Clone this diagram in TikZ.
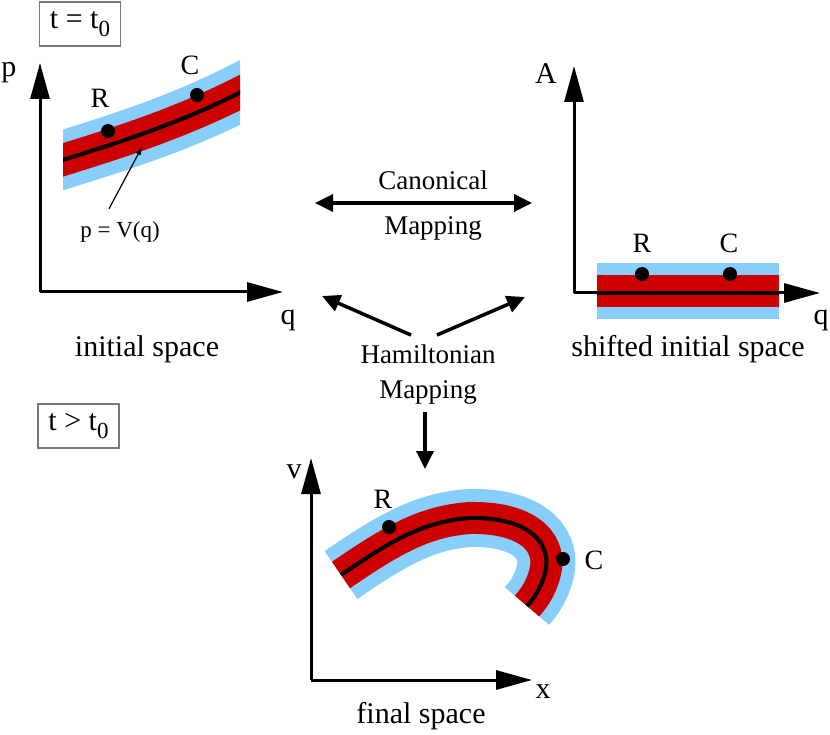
\documentclass[tikz,border=0pt]{standalone}
\usepackage{fontspec}
\setmainfont{Liberation Serif}
\usepackage{tikz}
\usetikzlibrary{arrows.meta, positioning}
\definecolor{bandblue}{RGB}{135, 206, 250}
\definecolor{bandred}{RGB}{204, 0, 0}
\definecolor{boxgrey}{RGB}{120, 120, 120}
\newcommand{\lowsub}[1]{\raisebox{-8pt}{\fontsize{23}{26}\selectfont #1}}

\begin{document}
\begin{tikzpicture}[
    x=1pt, y=1pt,
    every node/.style = {inner sep=0pt},
    axis/.style = {line width=3pt, -{Triangle[length=36pt,width=19pt]}},
    maparrow/.style = {line width=3.5pt, >={Triangle[length=18pt,width=17pt]}, ->},
    pointer/.style = {line width=1.2pt, -{Triangle[length=8pt,width=5pt]}},
    blueband/.style = {draw=bandblue, line width=58pt},
    redband/.style = {draw=bandred, line width=32pt},
    midline/.style = {draw=black, line width=4pt},
    dot/.style = {circle, fill=black, minimum size=14pt},
    timebox/.style = {
        rectangle, draw=boxgrey, line width=1.3pt,
        minimum width=81pt, minimum height=44pt,
        font=\fontsize{30}{34}\selectfont
    },
    spacelabel/.style = {anchor=base, font=\fontsize{30}{34}\selectfont},
    axislabel/.style = {anchor=base, font=\fontsize{30}{34}\selectfont},
    ptlabel/.style = {anchor=base, font=\fontsize{28}{32}\selectfont},
    maplabel/.style = {anchor=base, font=\fontsize{27}{32}\selectfont},
]
\useasboundingbox (0,0) rectangle (830,-735);

% Time boxes
\node[timebox] (tzero) at (80,-24) {t = t\lowsub{0}};
\node[timebox] (tlater) at (78.5,-426) {t > t\lowsub{0}};

% Initial space: band along p = V(q)
\begin{scope}
    \clip (63,-40) rectangle (240,-210);
    \draw[blueband] (50,-164) .. controls (120,-142) and (180,-124) .. (253,-86);
    \draw[redband]  (50,-164) .. controls (120,-142) and (180,-124) .. (253,-86);
    \draw[midline]  (50,-164) .. controls (120,-142) and (180,-124) .. (253,-86);
\end{scope}

\coordinate (oinit) at (40,-292);
\coordinate (pend)  at (40,-63);
\coordinate (qend)  at (283,-292);
\draw[axis] (oinit) -- (pend);
\draw[axis] (oinit) -- (qend);

\node[axislabel] (plab)  at (9,-77) {p};
\node[axislabel] (qlab1) at (288,-325) {q};

\node[dot] (rinit) at (108,-131) {};
\node[dot] (cinit) at (197,-95) {};
\node[ptlabel] (rinitlab) at (100,-108) {R};
\node[ptlabel] (cinitlab) at (190,-75) {C};

\node[anchor=base, font=\fontsize{23}{27}\selectfont] (pvq) at (120,-238) {p = V(q)};
\coordinate (pvqtip) at (142,-147);
\draw[pointer] (pvq.north) ++(-11,13) coordinate (pvqfoot) -- (pvqtip);

\node[spacelabel] (initlab) at (147,-356) {initial space};

% Shifted initial space
\fill[bandblue] (597,-263) rectangle (779,-319);
\fill[bandred]  (597,-275) rectangle (779,-307);
\coordinate (bandL) at (597,-293);
\coordinate (bandR) at (779,-293);
\draw[midline] (bandL) -- (bandR);

\coordinate (oshift) at (574,-293);
\coordinate (aend)   at (574,-66);
\coordinate (qend2)  at (820,-293);
\draw[axis] (oshift) -- (aend);
\draw[axis] (oshift) -- (qend2);

\node[axislabel] (alab)  at (546,-84) {A};
\node[axislabel] (qlab2) at (821,-325) {q};

\node[dot] (rshift) at (642,-274) {};
\node[dot] (cshift) at (730,-274) {};
\node[ptlabel] (rshiftlab) at (642,-253) {R};
\node[ptlabel] (cshiftlab) at (729,-253) {C};

\node[spacelabel] (shiftlab) at (688,-356) {shifted initial space};

% Canonical mapping
\node[maplabel] (canon)  at (433,-190) {Canonical};
\node[maplabel] (canmap) at (433,-235) {Mapping};
\coordinate (canL) at (315,-203);
\coordinate (canR) at (532,-203);
\draw[maparrow, <->] (canL) -- (canR);

% Hamiltonian mapping
\node[maplabel] (hamil)  at (428,-363) {Hamiltonian};
\node[maplabel] (hammap) at (428,-398) {Mapping};
\coordinate (hamLs) at (411,-335);
\coordinate (hamLe) at (322,-296);
\coordinate (hamRs) at (437,-335);
\coordinate (hamRe) at (525,-297);
\coordinate (hamDs) at (425,-412);
\coordinate (hamDe) at (425,-469);
\draw[maparrow] (hamLs) -- (hamLe);
\draw[maparrow] (hamRs) -- (hamRe);
\draw[maparrow] (hamDs) -- (hamDe);

% Final space: bent band
\draw[blueband] (341,-575) .. controls (392,-540) and (425,-521) .. (470,-518)
    .. controls (525,-517) and (550,-540) .. (546,-568)
    .. controls (543,-585) and (535,-597) .. (527,-606);
\draw[redband] (341,-575) .. controls (392,-540) and (425,-521) .. (470,-518)
    .. controls (525,-517) and (550,-540) .. (546,-568)
    .. controls (543,-585) and (535,-597) .. (527,-606);
\draw[midline] (341,-575) .. controls (392,-540) and (425,-521) .. (470,-518)
    .. controls (525,-517) and (550,-540) .. (546,-568)
    .. controls (543,-585) and (535,-597) .. (527,-606);

\coordinate (ofinal) at (311,-680);
\coordinate (vend)   at (311,-458);
\coordinate (xend)   at (532,-680);
\draw[axis] (ofinal) -- (vend);
\draw[axis] (ofinal) -- (xend);

\node[axislabel] (vlab) at (294,-478) {v};
\node[axislabel] (xlab) at (543,-698) {x};

\node[dot] (rfinal) at (389,-527) {};
\node[dot] (cfinal) at (563,-559) {};
\node[ptlabel] (rfinallab) at (383,-508) {R};
\node[ptlabel] (cfinallab) at (594,-569) {C};

\node[spacelabel] (finallab) at (421,-723) {final space};

\end{tikzpicture}
\end{document}
